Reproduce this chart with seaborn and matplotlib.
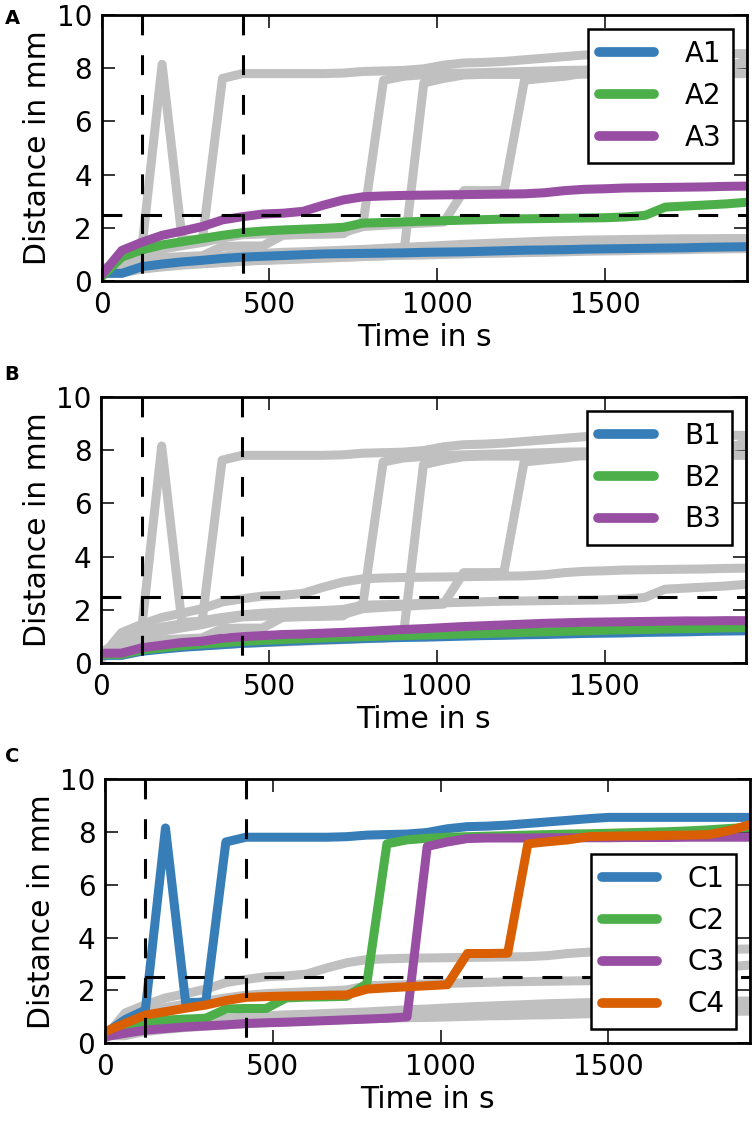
import numpy as np
import pandas as pd
import seaborn as sns
import matplotlib.pyplot as plt

# sampling times (s), one sample per minute
time_s = [0, 60, 120, 180, 240, 300, 360, 420, 480, 540, 600,
          660, 720, 780, 840, 900, 960, 1020, 1080, 1140, 1200,
          1260, 1320, 1380, 1440, 1500, 1560, 1620, 1680, 1740, 1800,
          1860, 1920]

# distance in mm
a1 = [0.29, 0.29, 0.54, 0.64, 0.72, 0.78, 0.85, 0.90, 0.93, 0.96, 0.99,
      1.02, 1.03, 1.04, 1.05, 1.06, 1.08, 1.09, 1.10, 1.12, 1.14,
      1.16, 1.17, 1.18, 1.20, 1.21, 1.22, 1.23, 1.24, 1.25, 1.27,
      1.28, 1.29]
a2 = [0.16, 0.90, 1.17, 1.36, 1.48, 1.60, 1.72, 1.82, 1.88, 1.92, 1.95,
      1.98, 2.02, 2.18, 2.20, 2.22, 2.25, 2.27, 2.29, 2.31, 2.33,
      2.34, 2.35, 2.36, 2.37, 2.38, 2.41, 2.47, 2.78, 2.82, 2.86,
      2.90, 2.96]
a3 = [0.23, 1.15, 1.46, 1.72, 1.88, 2.05, 2.30, 2.42, 2.52, 2.55, 2.62,
      2.85, 3.05, 3.17, 3.20, 3.22, 3.23, 3.24, 3.25, 3.26, 3.27,
      3.28, 3.32, 3.40, 3.45, 3.47, 3.50, 3.51, 3.52, 3.53, 3.54,
      3.56, 3.57]
b1 = [0.30, 0.30, 0.45, 0.53, 0.60, 0.65, 0.70, 0.75, 0.78, 0.82, 0.85,
      0.88, 0.90, 0.93, 0.95, 0.97, 0.98, 1.00, 1.02, 1.04, 1.05,
      1.07, 1.08, 1.10, 1.12, 1.13, 1.14, 1.16, 1.17, 1.18, 1.20,
      1.21, 1.22]
b2 = [0.33, 0.33, 0.50, 0.58, 0.66, 0.72, 0.77, 0.82, 0.86, 0.89, 0.92,
      0.95, 0.98, 1.00, 1.02, 1.04, 1.06, 1.08, 1.10, 1.12, 1.14,
      1.16, 1.18, 1.20, 1.22, 1.24, 1.26, 1.27, 1.29, 1.30, 1.31,
      1.33, 1.34]
b3 = [0.38, 0.38, 0.58, 0.68, 0.78, 0.83, 0.94, 1.00, 1.04, 1.08, 1.10,
      1.13, 1.16, 1.19, 1.23, 1.27, 1.30, 1.34, 1.38, 1.41, 1.44,
      1.47, 1.50, 1.52, 1.54, 1.55, 1.56, 1.57, 1.58, 1.59, 1.59,
      1.60, 1.60]
c1 = [0.38, 0.90, 1.26, 8.15, 1.55, 1.55, 7.62, 7.80, 7.80, 7.80, 7.80,
      7.80, 7.82, 7.88, 7.90, 7.92, 7.98, 8.12, 8.20, 8.22, 8.26,
      8.32, 8.38, 8.44, 8.50, 8.55, 8.55, 8.55, 8.55, 8.55, 8.55,
      8.55, 8.55]
c2 = [0.25, 0.63, 0.80, 0.88, 0.92, 0.95, 1.30, 1.32, 1.32, 1.72, 1.75,
      1.76, 1.78, 2.25, 7.55, 7.70, 7.76, 7.80, 7.82, 7.84, 7.86,
      7.88, 7.90, 7.92, 7.93, 7.95, 7.97, 7.99, 8.01, 8.04, 8.08,
      8.13, 8.18]
c3 = [0.25, 0.38, 0.50, 0.56, 0.62, 0.66, 0.70, 0.75, 0.78, 0.80, 0.83,
      0.86, 0.89, 0.92, 0.95, 1.00, 7.45, 7.62, 7.75, 7.77, 7.77,
      7.77, 7.78, 7.78, 7.78, 7.78, 7.79, 7.79, 7.79, 7.80, 7.80,
      7.80, 7.80]
c4 = [0.44, 0.76, 1.07, 1.20, 1.33, 1.45, 1.62, 1.74, 1.77, 1.79, 1.80,
      1.82, 1.83, 2.05, 2.10, 2.14, 2.18, 2.22, 3.40, 3.40, 3.41,
      7.55, 7.63, 7.70, 7.82, 7.84, 7.85, 7.86, 7.87, 7.88, 7.90,
      8.05, 8.27]

curve_names = ["A1", "A2", "A3", "B1", "B2", "B3", "C1", "C2", "C3", "C4"]
curve_values = [a1, a2, a3, b1, b2, b3, c1, c2, c3, c4]
panels = ["A", "B", "C"]
window_s = [120, 420]
threshold_mm = 2.5

colors = ["#377eb8", "#4daf4a", "#984ea3", "#d95f02"]
gray = "#c0c0c0"
lw = 6.5
dash = (0, (6.5, 6.5))

df = pd.DataFrame({
    "time": time_s * len(curve_names),
    "dist": [v for vals in curve_values for v in vals],
    "curve": [n for n in curve_names for _ in time_s],
})

sns.set_theme(style="ticks", rc={
    "axes.linewidth": 2.0,
    "axes.edgecolor": "black",
    "axes.labelcolor": "black",
    "text.color": "black",
    "xtick.color": "black", "ytick.color": "black",
    "xtick.direction": "in", "ytick.direction": "in",
    "xtick.top": True, "ytick.right": True,
    "xtick.major.size": 9.5, "ytick.major.size": 9.5,
    "xtick.major.width": 1.1, "ytick.major.width": 1.1,
    "xtick.major.pad": 7, "ytick.major.pad": 7,
    "xtick.labelsize": 20, "ytick.labelsize": 20,
    "axes.labelsize": 21.5,
    "axes.labelpad": 3,
    "legend.fontsize": 20,
})
plt.rcParams['font.family'] = ['DejaVu Sans']

fig = plt.figure(figsize=(7.56, 11.26), dpi=100)
positions = [[0.1345, 0.7504, 0.853, 0.2362],
             [0.1340, 0.4109, 0.853, 0.2368],
             [0.1390, 0.0734, 0.853, 0.2347]]
letter_y = [0.992, 0.676, 0.337]
legend_loc = ["upper right", "upper right", "lower right"]

for i, panel in enumerate(panels):
    ax = fig.add_axes(positions[i])
    # other groups in gray underneath
    others = df[~df.curve.str.startswith(panel)]
    sns.lineplot(data=others, x="time", y="dist", units="curve",
                 estimator=None, sort=False, color=gray, lw=lw,
                 legend=False, ax=ax)
    mine = [n for n in curve_names if n.startswith(panel)]
    for j, name in enumerate(mine):
        sub = df[df.curve == name]
        sns.lineplot(x=sub.time.values, y=sub.dist.values, color=colors[j],
                     lw=lw, sort=False, label=name, ax=ax)
    # dashes start at the top spine
    for w in window_s:
        ax.axvline(w, ymin=1, ymax=0, color="black", lw=2.2, ls=dash,
                   zorder=5)
    ax.axhline(threshold_mm, color="black", lw=2.2, ls=dash, zorder=5)

    ax.set_xlim(0, 1922)
    ax.set_ylim(0, 10)
    ax.set_xticks([0, 500, 1000, 1500])
    ax.set_yticks([0, 2, 4, 6, 8, 10])
    ax.set_xlabel("Time in s")
    ax.set_ylabel("Distance in mm")
    leg = ax.legend(loc=legend_loc[i], fancybox=False, framealpha=1,
                    edgecolor="black", handletextpad=1.1)
    leg.get_frame().set_linewidth(1.8)
    for h in leg.legend_handles:
        h.set_linewidth(7)
    fig.text(0.006, letter_y[i], panel, fontsize=14, fontweight="bold",
             va="top", ha="left")

fig.savefig("out.png", dpi=100)
